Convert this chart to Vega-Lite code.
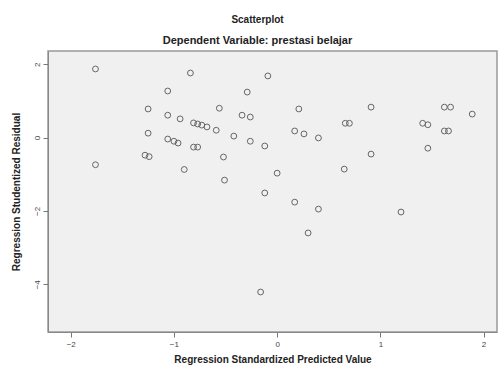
{
  "$schema": "https://vega.github.io/schema/vega-lite/v6.json",
  "autosize": "none",
  "width": 449,
  "height": 281,
  "padding": {"left": 48, "top": 51, "right": 1, "bottom": 35},
  "background": "#ffffff",
  "title": {
    "text": "Scatterplot",
    "subtitle": "Dependent Variable: prestasi belajar",
    "anchor": "middle",
    "dx": -15,
    "offset": 5,
    "font": "Liberation Sans",
    "fontSize": 10,
    "fontWeight": "bold",
    "color": "#222222",
    "subtitleFont": "Liberation Sans",
    "subtitleFontSize": 11,
    "subtitleFontWeight": "bold",
    "subtitleColor": "#222222",
    "subtitlePadding": 10
  },
  "config": {
    "view": {"fill": "#f0f0f0", "stroke": "#999999", "strokeWidth": 1.5},
    "axis": {
      "grid": false,
      "domainColor": "#888888",
      "tickColor": "#777777",
      "tickSize": 5,
      "labelFont": "Liberation Sans",
      "labelFontSize": 8,
      "labelColor": "#444444",
      "titleFont": "Liberation Sans",
      "titleFontSize": 10,
      "titleFontWeight": "bold",
      "titleColor": "#222222"
    }
  },
  "data": {
    "values": [
      {"x": -1.76, "y": 1.87},
      {"x": -1.76, "y": -0.74},
      {"x": -0.84, "y": 1.76},
      {"x": -1.06, "y": 1.27},
      {"x": -1.25, "y": 0.78},
      {"x": -1.25, "y": 0.12},
      {"x": -1.28, "y": -0.48},
      {"x": -1.24, "y": -0.52},
      {"x": -1.06, "y": 0.61},
      {"x": -0.94, "y": 0.51},
      {"x": -0.81, "y": 0.40},
      {"x": -0.77, "y": 0.37},
      {"x": -0.73, "y": 0.34},
      {"x": -0.68, "y": 0.29},
      {"x": -0.59, "y": 0.20},
      {"x": -1.06, "y": -0.04},
      {"x": -1.00, "y": -0.10},
      {"x": -0.96, "y": -0.15},
      {"x": -0.81, "y": -0.26},
      {"x": -0.77, "y": -0.26},
      {"x": -0.90, "y": -0.87},
      {"x": -0.51, "y": -1.16},
      {"x": -0.56, "y": 0.80},
      {"x": -0.52, "y": -0.53},
      {"x": -0.42, "y": 0.04},
      {"x": -0.34, "y": 0.61},
      {"x": -0.26, "y": 0.56},
      {"x": -0.29, "y": 1.24},
      {"x": -0.09, "y": 1.68},
      {"x": 0.21, "y": 0.78},
      {"x": 0.17, "y": 0.18},
      {"x": 0.26, "y": 0.10},
      {"x": 0.40, "y": -0.01},
      {"x": -0.26, "y": -0.10},
      {"x": -0.12, "y": -0.23},
      {"x": 0.00, "y": -0.97},
      {"x": -0.12, "y": -1.51},
      {"x": 0.17, "y": -1.76},
      {"x": 0.40, "y": -1.95},
      {"x": 0.30, "y": -2.60},
      {"x": -0.16, "y": -4.21},
      {"x": 0.91, "y": 0.83},
      {"x": 0.66, "y": 0.39},
      {"x": 0.70, "y": 0.39},
      {"x": 0.91, "y": -0.45},
      {"x": 0.65, "y": -0.86},
      {"x": 1.20, "y": -2.03},
      {"x": 1.41, "y": 0.39},
      {"x": 1.46, "y": 0.35},
      {"x": 1.46, "y": -0.29},
      {"x": 1.62, "y": 0.83},
      {"x": 1.68, "y": 0.83},
      {"x": 1.62, "y": 0.18},
      {"x": 1.66, "y": 0.18},
      {"x": 1.89, "y": 0.64}
    ]
  },
  "mark": {"type": "point", "shape": "circle", "filled": false, "size": 34, "stroke": "#666666", "strokeWidth": 1, "opacity": 1},
  "encoding": {
    "x": {
      "field": "x",
      "type": "quantitative",
      "scale": {"domain": [-2.22, 2.13], "nice": false, "zero": false},
      "axis": {"values": [-2, -1, 0, 1, 2], "title": "Regression Standardized Predicted Value", "titlePadding": 6, "labelPadding": 3}
    },
    "y": {
      "field": "y",
      "type": "quantitative",
      "scale": {"domain": [-5.3, 2.36], "nice": false, "zero": false},
      "axis": {"values": [-4, -2, 0, 2], "title": "Regression Studentized Residual", "labelAngle": -90, "labelAlign": "center", "labelBaseline": "bottom", "labelPadding": 2, "titlePadding": 12}
    }
  }
}
